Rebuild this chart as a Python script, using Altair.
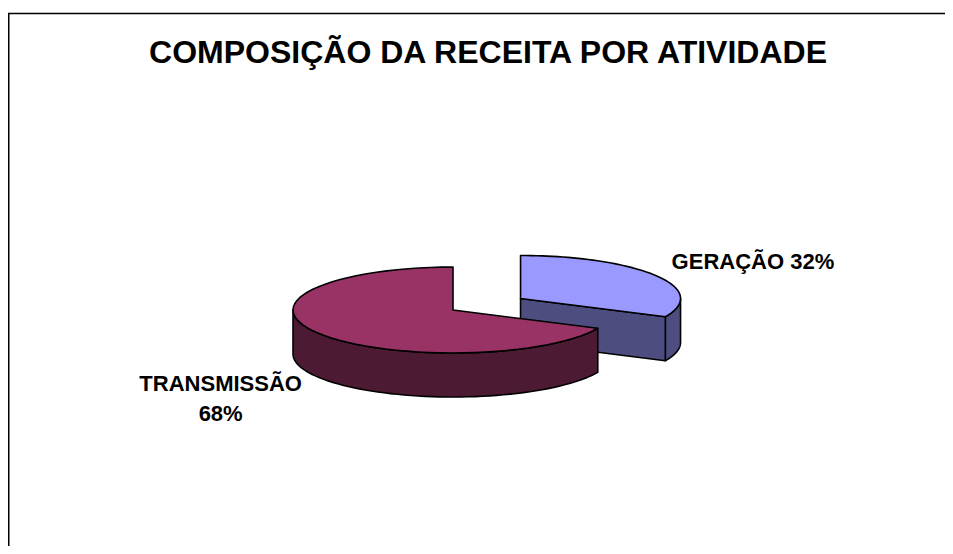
import math
import altair as alt

# ---- data ----
CATS = ["GERAÇÃO", "TRANSMISSÃO"]
VALUES = [32, 68]
TITLE = "COMPOSIÇÃO DA RECEITA POR ATIVIDADE"

# ---- style / layout ----
TOP_COLORS = {"GERAÇÃO": "#9999FF", "TRANSMISSÃO": "#993366"}
SIDE_COLORS = {"GERAÇÃO": "#4D4D80", "TRANSMISSÃO": "#4D1A33"}
EXPLODE = {"GERAÇÃO": 0.5, "TRANSMISSÃO": 0.0}

W, H = 937, 538
CX, CY = 445, 302          # pie centre (chart pixels)
RX, RY, DEPTH = 160, 43, 44
N = 60                      # arc resolution
LR = 1.72                   # label radius factor
LABEL_DROP = 31             # extra drop for labels below the pie
FONT = "Liberation Sans"

rows = [{"cat": c, "value": v, "idx": i, "ex": EXPLODE[c]}
        for i, (c, v) in enumerate(zip(CATS, VALUES))]

xs = alt.Scale(domain=[0, W], range=[0, W], nice=False, zero=False)
ys = alt.Scale(domain=[0, H], range=[0, H], nice=False, zero=False)


def base():
    return (
        alt.Chart(alt.Data(values=rows))
        .transform_joinaggregate(total="sum(value)")
        .transform_window(cum="sum(value)", sort=[alt.SortField("idx")], frame=[None, 0])
        .transform_calculate(a0="2*PI*(datum.cum-datum.value)/datum.total")
        .transform_calculate(a1="2*PI*datum.cum/datum.total")
        .transform_calculate(mid="(datum.a0+datum.a1)/2")
        .transform_calculate(cx=f"{CX} + datum.ex*{RX}*sin(datum.mid)")
        .transform_calculate(cy=f"{CY} - datum.ex*{RY}*cos(datum.mid)")
    )


def enc(ch):
    return ch.encode(
        x=alt.X("px:Q", scale=xs, axis=None),
        y=alt.Y("py:Q", scale=ys, axis=None),
        order=alt.Order("s:Q"),
    )


stroke = dict(stroke="black", strokeWidth=1.6, strokeJoin="round", interpolate="linear-closed")


def top_layer(c):
    ch = (
        base()
        .transform_filter(alt.datum.cat == c)
        .transform_calculate(steps=f"sequence(-1, {N + 1})")
        .transform_flatten(["steps"], as_=["s"])
        .transform_calculate(ang=f"datum.a0 + (datum.a1-datum.a0)*datum.s/{N}")
        .transform_calculate(px=f"datum.s < 0 ? datum.cx : datum.cx + {RX}*sin(datum.ang)")
        .transform_calculate(py=f"datum.s < 0 ? datum.cy : datum.cy - {RY}*cos(datum.ang)")
        .mark_line(fill=TOP_COLORS[c], **stroke)
    )
    return enc(ch)


def wall_layer(c):
    ch = (
        base()
        .transform_filter(alt.datum.cat == c)
        .transform_calculate(wa="max(datum.a0, PI/2)")
        .transform_calculate(wb="min(datum.a1, 3*PI/2)")
        .transform_filter("datum.wb > datum.wa")
        .transform_calculate(steps=f"sequence(0, {2 * N + 2})")
        .transform_flatten(["steps"], as_=["s"])
        .transform_calculate(bot=f"datum.s > {N} ? 1 : 0")
        .transform_calculate(k=f"datum.s > {N} ? {2 * N + 1} - datum.s : datum.s")
        .transform_calculate(ang=f"datum.wa + (datum.wb - datum.wa)*datum.k/{N}")
        .transform_calculate(px=f"datum.cx + {RX}*sin(datum.ang)")
        .transform_calculate(py=f"datum.cy - {RY}*cos(datum.ang) + datum.bot*{DEPTH}")
        .mark_line(fill=SIDE_COLORS[c], **stroke)
    )
    return enc(ch)


def cut_layer(c):
    ch = (
        base()
        .transform_filter(alt.datum.cat == c)
        .transform_calculate(
            fa="sin(datum.a1) > 0.01 ? datum.a1 : (sin(datum.a0) < -0.01 ? datum.a0 : -1)")
        .transform_filter("datum.fa >= 0")
        .transform_calculate(steps="[0, 1, 2, 3]")
        .transform_flatten(["steps"], as_=["s"])
        .transform_calculate(
            px=f"(datum.s == 0 || datum.s == 3) ? datum.cx : datum.cx + {RX}*sin(datum.fa)")
        .transform_calculate(
            py=f"((datum.s == 0 || datum.s == 3) ? datum.cy : datum.cy - {RY}*cos(datum.fa))"
               f" + (datum.s >= 2 ? {DEPTH} : 0)")
        .mark_line(fill=SIDE_COLORS[c], **stroke)
    )
    return enc(ch)


# back-to-front painting order of slices
total = sum(VALUES)
cum = 0
mids = {}
for c, v in zip(CATS, VALUES):
    mids[c] = 2 * math.pi * (cum + v / 2) / total
    cum += v
order = sorted(CATS, key=lambda c: -math.cos(mids[c]))

dummy = alt.Data(values=[{}])

border_left = alt.Chart(dummy).mark_rule(color="black", strokeWidth=1.5).encode(
    x=alt.value(0.75), y=alt.value(5.5), y2=alt.value(H))
border_top = alt.Chart(dummy).mark_rule(color="black", strokeWidth=1.5).encode(
    x=alt.value(0), x2=alt.value(W), y=alt.value(5.5))

title = alt.Chart(dummy).mark_text(
    text=TITLE, font=FONT, fontSize=32, fontWeight="bold",
    align="center", baseline="alphabetic", color="black",
).encode(x=alt.value(480), y=alt.value(55))

labels = (
    base()
    .transform_calculate(pct="round(100*datum.value/datum.total)")
    .transform_calculate(label="datum.cat + (cos(datum.mid) < 0 ? '\\n' : ' ') + datum.pct + '%'")
    .transform_calculate(lx=f"datum.cx + {LR}*{RX}*sin(datum.mid)")
    .transform_calculate(
        ly=f"datum.cy - {LR}*{RY}*cos(datum.mid) + (cos(datum.mid) < 0 ? {LABEL_DROP} : 0) + 3.5")
    .mark_text(font=FONT, fontSize=22, fontWeight="bold", lineBreak="\n", lineHeight=30,
               align="center", baseline="middle", color="black")
    .encode(
        x=alt.X("lx:Q", scale=xs, axis=None),
        y=alt.Y("ly:Q", scale=ys, axis=None),
        text="label:N",
    )
)

layers = [border_left, border_top, title]
for c in order:
    layers += [wall_layer(c), cut_layer(c), top_layer(c)]
layers.append(labels)

chart = alt.layer(*layers).properties(
    width=W, height=H, padding=0, autosize="none", background="white"
).configure_view(stroke=None)

chart.save("out.html", embed_options={"renderer": "svg", "actions": False})
